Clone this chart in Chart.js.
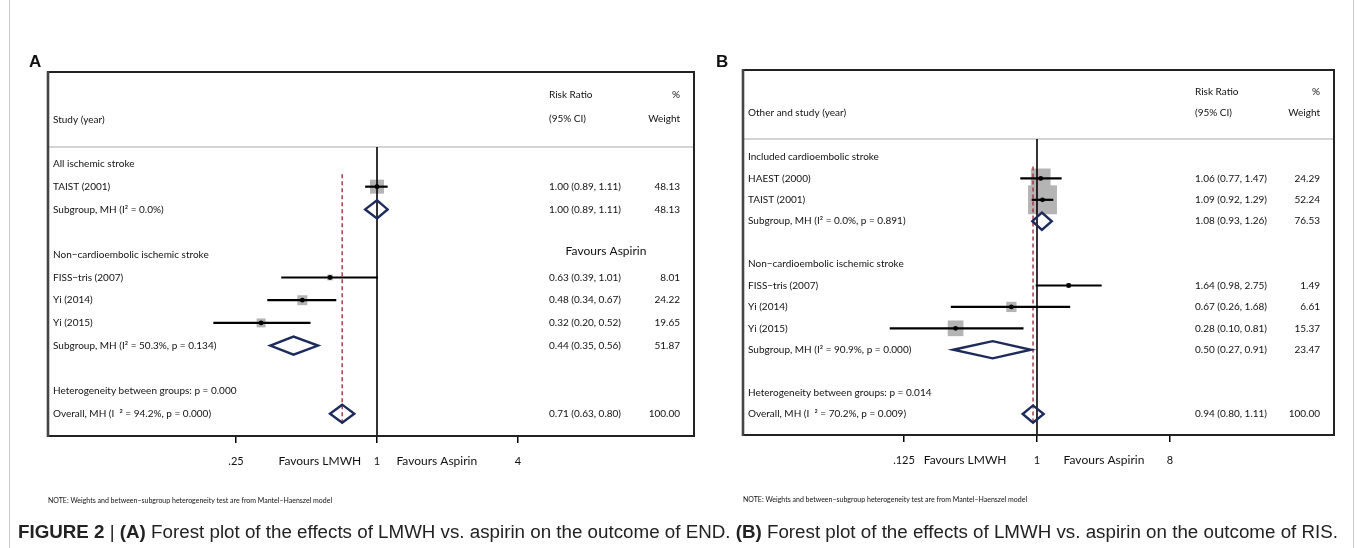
<!DOCTYPE html>
<html><head><meta charset="utf-8">
<script src="https://cdn.jsdelivr.net/npm/chart.js@4.4.0/dist/chart.umd.min.js"></script>
<style>
html,body{margin:0;padding:0;background:#fff;}
#wrap{position:relative;width:1357px;height:548px;overflow:hidden;background:#fff;}
#frame{position:absolute;left:9px;top:-10px;width:1345px;height:600px;border:1px solid #c8c8c8;box-sizing:border-box;}
canvas{position:absolute;left:0;top:0;}
#cap{position:absolute;left:18px;top:521px;font-family:'Liberation Sans',Arial,sans-serif;font-size:18px;line-height:22px;color:#222;white-space:nowrap;transform-origin:0 0;}
.pl{position:absolute;font-family:'Liberation Sans',Arial,sans-serif;font-weight:bold;font-size:17px;color:#111;}
</style></head>
<body><div id="wrap"><div id="frame"></div>
<canvas id="cA" width="1357" height="548"></canvas>
<canvas id="cB" width="1357" height="548"></canvas>
<div class="pl" style="left:29px;top:52px;">A</div>
<div class="pl" style="left:716px;top:52px;">B</div>
<div id="cap"><b>FIGURE 2</b> | <b>(A)</b> Forest plot of the effects of LMWH vs. aspirin on the outcome of END. <b>(B)</b> Forest plot of the effects of LMWH vs. aspirin on the outcome of RIS.</div>
</div>
<script>
// ---------- Panel A data ----------
const labelsA = ['All ischemic stroke','TAIST (2001)','Subgroup, MH (I\u00B2 = 0.0%)','',
  'Non\u2212cardioembolic ischemic stroke','FISS\u2212tris (2007)','Yi (2014)','Yi (2015)',
  'Subgroup, MH (I\u00B2 = 50.3%, p = 0.134)','','Heterogeneity between groups: p = 0.000',
  'Overall, MH (I  \u00B2 = 94.2%, p = 0.000)'];
const kindA = ['group','study','sub','blank','group','study','study','study','sub','blank','het','overall'];
const estA = [null,1.00,1.00,null,null,0.63,0.48,0.32,0.44,null,null,0.71];
const lowA = [null,0.89,0.89,null,null,0.39,0.34,0.20,0.35,null,null,0.63];
const highA = [null,1.11,1.11,null,null,1.01,0.67,0.52,0.56,null,null,0.80];
const weightA = [null,48.13,48.13,null,null,8.01,24.22,19.65,51.87,null,null,100.00];
const ticksA = [0.25,1,4];
const tickLabelsA = ['.25','1','4'];
const headA = ['Study (year)','Risk Ratio','(95% CI)','%','Weight'];

// ---------- Panel B data ----------
const labelsB = ['Included cardioembolic stroke','HAEST (2000)','TAIST (2001)','Subgroup, MH (I\u00B2 = 0.0%, p = 0.891)','',
  'Non\u2212cardioembolic ischemic stroke','FISS\u2212tris (2007)','Yi (2014)','Yi (2015)',
  'Subgroup, MH (I\u00B2 = 90.9%, p = 0.000)','','Heterogeneity between groups: p = 0.014',
  'Overall, MH (I  \u00B2 = 70.2%, p = 0.009)'];
const kindB = ['group','study','study','sub','blank','group','study','study','study','sub','blank','het','overall'];
const estB = [null,1.06,1.09,1.08,null,null,1.64,0.67,0.28,0.50,null,null,0.94];
const lowB = [null,0.77,0.92,0.93,null,null,0.98,0.26,0.10,0.27,null,null,0.80];
const highB = [null,1.47,1.29,1.26,null,null,2.75,1.68,0.81,0.91,null,null,1.11];
const weightB = [null,24.29,52.24,76.53,null,null,1.49,6.61,15.37,23.47,null,null,100.00];
const ticksB = [0.125,1,8];
const tickLabelsB = ['.125','1','8'];
const headB = ['Other and study (year)','Risk Ratio','(95% CI)','%','Weight'];

const noteText = 'NOTE: Weights and between\u2212subgroup heterogeneity test are from Mantel\u2212Haenszel model';
const favLow = 'Favours LMWH', favHigh = 'Favours Aspirin';

const FONT = 'Lato, "Open Sans", sans-serif';

const panels = [
  {id:'cA', labels:labelsA, kind:kindA, est:estA, low:lowA, high:highA, w:weightA, ticks:ticksA, tickLabels:tickLabelsA, head:headA,
   left:48, top:72, right:694, bottom:436, xmin:Math.pow(2,-4.667), xmax:Math.pow(2,4.4965), ymin:-4.05, ymax:11.98,
   headerRow:-0.75, headRows:[-1.93,-3.04,-1.98], rrX:549, wX:680, sq:2.02,
   favPos:[0.57,1.80], extraFav:{x:606, row:3.83}, noteY:501},
  {id:'cB', labels:labelsB, kind:kindB, est:estB, low:lowB, high:highB, w:weightB, ticks:ticksB, tickLabels:tickLabelsB, head:headB,
   left:743, top:70, right:1334, bottom:435, xmin:Math.pow(2,-6.632), xmax:Math.pow(2,6.70), ymin:-4.06, ymax:12.98,
   headerRow:-0.84, headRows:[-2.05,-3.03,-2.05], rrX:1195, wX:1320, sq:4.0,
   favPos:[0.325,2.85], extraFav:null, noteY:500}
];

function makeChart(P){
  const sqData=[], sqR=[], dotData=[];
  P.kind.forEach((k,i)=>{
    if(k==='study'){
      const side=P.sq*Math.sqrt(P.w[i]);
      sqData.push({x:P.est[i], y:i}); sqR.push(side/Math.SQRT2);
      dotData.push({x:P.est[i], y:i});
    }
  });
  const plugin={
    id:'forest_'+P.id,
    afterDatasetsDraw(chart){
      const {ctx, chartArea:a, scales:{x,y}}=chart;
      const L=(x1,y1,x2,y2)=>{ctx.beginPath();ctx.moveTo(x1,y1);ctx.lineTo(x2,y2);ctx.stroke();};
      ctx.save();
      const hy=y.getPixelForValue(P.headerRow);
      ctx.strokeStyle='#c6c6c6'; ctx.lineWidth=1.5; L(a.left,hy,a.right,hy);
      const nx=x.getPixelForValue(1);
      ctx.strokeStyle='#000'; ctx.lineWidth=1.6; L(nx,hy,nx,a.bottom);
      const last=P.est.length-1, ov=P.est[last];
      ctx.strokeStyle='#a3303d'; ctx.lineWidth=1.4; ctx.setLineDash([4,3]);
      const ox=x.getPixelForValue(ov);
      L(ox,y.getPixelForValue(0.45),ox,y.getPixelForValue(last+0.45));
      ctx.setLineDash([]);
      // CI lines
      ctx.strokeStyle='#000'; ctx.lineWidth=2.2;
      P.kind.forEach((k,i)=>{
        if(k==='study'){ const py=y.getPixelForValue(i); L(x.getPixelForValue(P.low[i]),py,x.getPixelForValue(P.high[i]),py); }
      });
      // diamonds
      ctx.strokeStyle='#1d2a5c'; ctx.lineWidth=2.4; ctx.lineJoin='miter';
      P.kind.forEach((k,i)=>{
        if(k==='sub'||k==='overall'){
          const yc=y.getPixelForValue(i), yt=y.getPixelForValue(i-0.4), yb=y.getPixelForValue(i+0.4);
          ctx.beginPath();
          ctx.moveTo(x.getPixelForValue(P.low[i]),yc);
          ctx.lineTo(x.getPixelForValue(P.est[i]),yt);
          ctx.lineTo(x.getPixelForValue(P.high[i]),yc);
          ctx.lineTo(x.getPixelForValue(P.est[i]),yb);
          ctx.closePath(); ctx.stroke();
        }
      });
      // dots
      ctx.fillStyle='#000';
      P.kind.forEach((k,i)=>{
        if(k==='study'){ ctx.beginPath(); ctx.arc(x.getPixelForValue(P.est[i]),y.getPixelForValue(i),2.4,0,Math.PI*2); ctx.fill(); }
      });
      ctx.restore();
    },
    afterDraw(chart){
      const {ctx, chartArea:a, scales:{x,y}}=chart;
      ctx.save();
      // box
      ctx.strokeStyle='#222'; ctx.lineWidth=2;
      ctx.beginPath(); ctx.moveTo(a.left,a.top); ctx.lineTo(a.right,a.top); ctx.lineTo(a.right,a.bottom); ctx.lineTo(a.left,a.bottom); ctx.stroke();
      ctx.strokeStyle='#444'; ctx.lineWidth=2.6;
      ctx.beginPath(); ctx.moveTo(a.left,a.top-1); ctx.lineTo(a.left,a.bottom+1); ctx.stroke();
      // texts
      ctx.fillStyle='#111'; ctx.textBaseline='middle';
      ctx.font='10px '+FONT; ctx.textAlign='left';
      const lx=a.left+5;
      ctx.fillText(P.head[0], lx, y.getPixelForValue(P.headRows[0]));
      ctx.fillText(P.head[1], P.rrX, y.getPixelForValue(P.headRows[1]));
      ctx.fillText(P.head[2], P.rrX, y.getPixelForValue(P.headRows[2]));
      ctx.textAlign='right';
      ctx.fillText(P.head[3], P.wX, y.getPixelForValue(P.headRows[1]));
      ctx.fillText(P.head[4], P.wX, y.getPixelForValue(P.headRows[2]));
      P.labels.forEach((t,i)=>{
        const py=y.getPixelForValue(i);
        ctx.textAlign='left';
        if(t) ctx.fillText(t, lx, py);
        if(P.est[i]!=null){
          ctx.fillText(P.est[i].toFixed(2)+' ('+P.low[i].toFixed(2)+', '+P.high[i].toFixed(2)+')', P.rrX, py);
          ctx.textAlign='right';
          ctx.fillText(P.w[i].toFixed(2), P.wX, py);
        }
      });
      // bottom axis captions
      ctx.font='12px '+FONT; ctx.textAlign='center';
      const ly=a.bottom+25;
      ctx.fillText(favLow, x.getPixelForValue(P.favPos[0]), ly);
      ctx.fillText(favHigh, x.getPixelForValue(P.favPos[1]), ly);
      if(P.extraFav){ ctx.fillText(favHigh, P.extraFav.x, y.getPixelForValue(P.extraFav.row)); }
      // note
      ctx.font='7px '+FONT; ctx.textAlign='left';
      ctx.fillText(noteText, a.left, P.noteY);
      ctx.restore();
    }
  };
  return new Chart(document.getElementById(P.id),{
    type:'scatter',
    data:{datasets:[
      {data:sqData, pointStyle:'rect', pointRadius:sqR, backgroundColor:'#b4b4b4', borderWidth:0, pointHoverRadius:sqR},
      {data:dotData, pointRadius:0, backgroundColor:'#000', borderWidth:0}
    ]},
    options:{
      responsive:false, animation:false, devicePixelRatio:1, events:[],
      layout:{padding:{left:P.left, top:P.top, right:1357-P.right, bottom:0}},
      plugins:{legend:{display:false}, tooltip:{enabled:false}},
      scales:{
        x:{type:'logarithmic', min:P.xmin, max:P.xmax, bounds:'data', position:'bottom',
          afterBuildTicks:s=>{ s.ticks=P.ticks.map(v=>({value:v})); },
          afterFit:s=>{ s.height=548-P.bottom; },
          ticks:{callback:(v,i)=>P.tickLabels[i], font:{family:FONT,size:11}, color:'#111', padding:12, maxRotation:0, autoSkip:false},
          grid:{drawOnChartArea:false, drawTicks:true, tickLength:7, color:'#000', lineWidth:1.5},
          border:{display:false}
        },
        y:{type:'linear', min:P.ymin, max:P.ymax, reverse:true, display:false, bounds:'data'}
      }
    },
    plugins:[plugin]
  });
}
panels.forEach(makeChart);

// fit caption width
const cap=document.getElementById('cap');
const targetW=1338-18;
const w=cap.getBoundingClientRect().width;
cap.style.transform='scaleX('+(targetW/w)+')';
</script>
</body></html>
